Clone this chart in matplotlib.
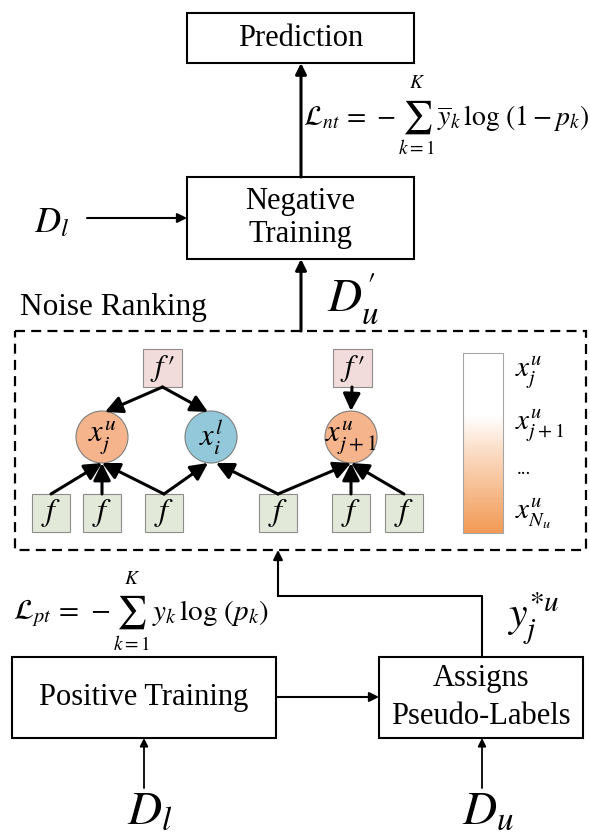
import numpy as np
import matplotlib
matplotlib.use("Agg")
import matplotlib.pyplot as plt
from matplotlib.patches import Rectangle, Circle
from matplotlib.colors import LinearSegmentedColormap

plt.rcParams['font.family'] = ['Liberation Serif', 'DejaVu Serif']
plt.rcParams['mathtext.fontset'] = 'stix'

# --- labels / content ---
box_labels = ["Prediction", "Negative\nTraining", "Positive Training", "Assigns\nPseudo-Labels"]
node_labels = [r"$x_j^u$", r"$x_i^l$", r"$x_{j+1}^u$"]
node_colors = ["#f5b48c", "#92c8da", "#f5b48c"]
rank_labels = [r"$x_j^u$", r"$x_{j+1}^u$", "...", r"$x_{N_u}^u$"]
nt_left, nt_right = r"$\mathcal{L}_{nt}\,=\,-$", r"$\overline{y}_k\,\log\,(1-p_k)$"
pt_left, pt_right = r"$\mathcal{L}_{pt}\,=\,-$", r"$y_k\,\log\,(p_k)$"
sum_upper, sum_lower = r"$K$", r"$k=1$"

fig = plt.figure(figsize=(5.9, 8.4), dpi=100)
ax = fig.add_axes([0, 0, 1, 1])
ax.set_xlim(0, 590)
ax.set_ylim(840, 0)
ax.axis("off")
renderer = fig.canvas.get_renderer()


def box(x0, y0, x1, y1, text=None, fs=22, fc="white", ec="black", lw=1.5, spacing=1.2):
    ax.add_patch(Rectangle((x0, y0), x1 - x0, y1 - y0, fc=fc, ec=ec, lw=lw, zorder=2))
    if text:
        ax.text((x0 + x1) / 2, (y0 + y1) / 2, text, fontsize=fs, ha="center",
                va="center", linespacing=spacing, zorder=5)


def arrow(src, dst, lw=1.5, ms=14):
    ax.annotate("", xy=dst, xytext=src,
                arrowprops=dict(arrowstyle="-|>", lw=lw, color="black",
                                shrinkA=0, shrinkB=0, mutation_scale=ms),
                zorder=6)


def right_edge(t):
    bb = t.get_window_extent(renderer)
    return ax.transData.inverted().transform((bb.x1, bb.y0))[0]


def loss(x, y, left, right, fs=20):
    # formula built from pieces so the sum sign can be drawn large
    t = ax.text(x, y, left, fontsize=fs, ha="left", va="center")
    sx = right_edge(t) + 21
    s = ax.text(sx, y - 1, r"$\sum$", fontsize=24, ha="center", va="center")
    ax.text(sx, y - 34, sum_upper, fontsize=14, ha="center", va="center")
    ax.text(sx, y + 31, sum_lower, fontsize=14, ha="center", va="center")
    ax.text(right_edge(s) + 5, y, right, fontsize=fs, ha="left", va="center")


# main boxes
box(187, 13, 414, 63, box_labels[0])
box(187, 177, 414, 259, box_labels[1], spacing=1.2)
box(12, 657, 276, 738, box_labels[2])
box(379, 657, 583, 738, box_labels[3], spacing=1.4)

# dashed noise ranking frame
ax.add_patch(Rectangle((15, 331), 571, 219, fc="none", ec="black", lw=1.6,
                       linestyle=(0, (4.5, 2.8)), zorder=2))
ax.text(20, 307, "Noise Ranking", fontsize=22.5, ha="left", va="center")

# main arrows
arrow((301, 177), (301, 63), lw=2.2, ms=16)
arrow((301, 331), (301, 259), lw=2.2, ms=16)
arrow((87, 218), (187, 218), lw=1.5, ms=14)
arrow((276, 697), (379, 697), lw=1.5, ms=14)
arrow((144, 788), (144, 738), lw=1.3, ms=12)
arrow((482, 788), (482, 738), lw=1.3, ms=12)
ax.plot([482, 482, 278], [657, 596, 596], color="black", lw=1.5, zorder=3)
arrow((278, 596), (278, 550), lw=1.5, ms=14)

# formulas and data symbols
loss(303, 118, nt_left, nt_right)
loss(13, 613, pt_left, pt_right, fs=21)
ax.text(34, 224, r"$D_l$", fontsize=26, ha="left", va="center")
ax.text(327, 298, r"$D_u^{\prime}$", fontsize=34, ha="left", va="center")
ax.text(127, 812, r"$D_l$", fontsize=34, ha="left", va="center")
ax.text(462, 812, r"$D_u$", fontsize=34, ha="left", va="center")
ax.text(507, 618, r"$y^{*u}_j$", fontsize=30, ha="left", va="center")

# noise ranking graph
fprime_x = [143, 333]
f_x = [32, 83, 145, 259, 332, 385]
node_cx = [102, 211, 351]
node_cy, node_r = 437, 26

for x0 in fprime_x:
    box(x0, 349, x0 + 39, 387, r"$f\,\prime$", fs=22, fc="#f2dcdb", ec="#8c8c8c", lw=0.8)
for x0 in f_x:
    box(x0, 494, x0 + 38, 532, r"$f$", fs=23, fc="#e3e9d8", ec="#8c8c8c", lw=0.8)
for cx, lab, col in zip(node_cx, node_labels, node_colors):
    ax.add_patch(Circle((cx, node_cy), node_r, fc=col, ec="#7f7f7f", lw=0.8, zorder=3))
    ax.text(cx, node_cy, lab, fontsize=22, ha="center", va="center", zorder=5)

# edges: f' -> nodes, f -> nodes
top = node_cy - node_r
bot = node_cy + node_r
arrow((162.5, 387), (105, top + 1), lw=2.2, ms=26)
arrow((162.5, 387), (208, top + 1), lw=2.2, ms=26)
arrow((352, 387), (351, top), lw=2.2, ms=26)
edges = [(0, 0), (1, 0), (2, 0), (2, 1), (3, 1), (3, 2), (4, 2), (5, 2)]
for fi, ni in edges:
    sx = f_x[fi] + 19
    tx = node_cx[ni]
    if ni == 1:
        tx += -3 if fi == 2 else 5
    arrow((sx, 494), (tx, bot), lw=2.2, ms=26)

# ranking gradient bar
grad = np.linspace(0, 1, 256).reshape(-1, 1)
cmap = LinearSegmentedColormap.from_list(
    "rank", [(0, "#ffffff"), (0.35, "#ffffff"), (0.55, "#fbdcc4"), (1, "#f29a55")])
ax.imshow(grad, cmap=cmap, extent=(463, 503, 533, 353), aspect="auto", zorder=2)
ax.add_patch(Rectangle((463, 353), 40, 180, fc="none", ec="#a6a6a6", lw=0.8, zorder=3))
rank_y = [372, 425, 470, 514]
for yy, lab in zip(rank_y, rank_labels):
    ax.text(515 if lab != "..." else 517, yy, lab, fontsize=21 if lab != "..." else 14,
            ha="left", va="center")

fig.savefig("out.png", dpi=100)
